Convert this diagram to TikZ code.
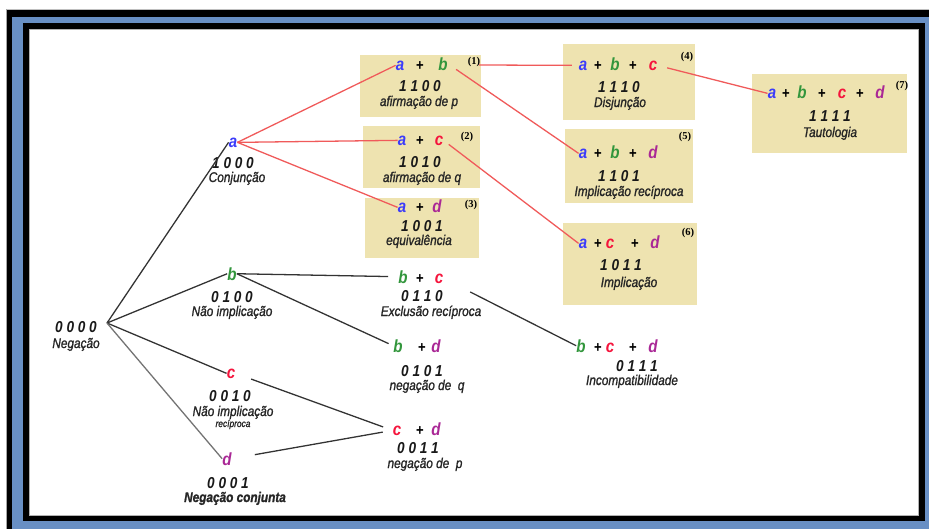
\documentclass[tikz,border=0pt]{standalone}
\usepackage{fontspec}
\setmainfont{Liberation Sans}
\newfontfamily\narrowsans[FakeStretch=0.86]{Liberation Sans}
\newfontfamily\labelsans[FakeStretch=0.84,FakeBold=1.2]{Liberation Sans}
\newfontfamily\serifnum{Liberation Serif}
\definecolor{boxyellow}{RGB}{238,227,176}
\definecolor{cola}{RGB}{60,60,250}
\definecolor{colb}{RGB}{50,150,60}
\definecolor{colc}{RGB}{245,20,60}
\definecolor{cold}{RGB}{170,40,150}
\definecolor{redline}{RGB}{240,90,90}
\definecolor{frameblue}{RGB}{104,143,196}
\begin{document}
\begin{tikzpicture}[x=0.3mm,y=-0.3mm,
    box/.style={fill=boxyellow},
    var/.style={font=\narrowsans\bfseries\itshape\fontsize{15}{15}\selectfont, inner sep=0pt, anchor=base},
    op/.style={font=\narrowsans\bfseries\fontsize{13}{13}\selectfont, inner sep=0pt, anchor=base},
    bits/.style={font=\narrowsans\bfseries\itshape\fontsize{13.5}{13.5}\selectfont, inner sep=0pt, anchor=base, text=black!90},
    lbl/.style={font=\labelsans\itshape\fontsize{12}{12}\selectfont, inner sep=0pt, anchor=base, text=black!85},
    refnum/.style={font=\serifnum\bfseries\fontsize{9}{9}\selectfont, inner sep=0pt},
    tree/.style={draw=black!80, line width=1.1pt},
    link/.style={draw=redline, line width=1.1pt}]
    \useasboundingbox (0,0) rectangle (929,529);

    % Frame
    \fill[white] (0,0) rectangle (929,529);
    \draw[gray!50, line width=0.5pt] (6,9) -- (929,9);
    \draw[gray!70, line width=0.6pt] (6,9) -- (6,529);
    \fill[black] (7,10) rectangle (929,529);
    \fill[frameblue] (12,17) rectangle (929,529);
    \fill[black] (23,23) rectangle (925,521);
    \fill[white] (29,29) rectangle (918,515);
    \draw[gray!60, line width=0.4pt] (29,29) rectangle (918,515);

    % Boxes
    \fill[box] (360,55) rectangle (481,117);
    \fill[box] (363,126) rectangle (480,188);
    \fill[box] (365,198) rectangle (479,258);
    \fill[box] (563,44) rectangle (695,120);
    \fill[box] (565,129) rectangle (693,203);
    \fill[box] (563,223) rectangle (697,305);
    \fill[box] (752,74) rectangle (907,153);

    % Level 0: 0000
    \coordinate (root) at (107,323);
    \node[bits] (n0) at (76,332) {0 0 0 0};
    \node[lbl] (n0-lbl) at (76,348) {Negação};

    % Level 1: a, b, c, d
    \node[var, text=cola] (a) at (233,147) {a};
    \node[bits] (a-bits) at (233,168) {1 0 0 0};
    \node[lbl] (a-lbl) at (237,182) {Conjunção};

    \node[var, text=colb] (b) at (232,280) {b};
    \node[bits] (b-bits) at (232,302) {0 1 0 0};
    \node[lbl] (b-lbl) at (232,316) {Não implicação};

    \node[var, text=colc] (c) at (231,378) {c};
    \node[bits] (c-bits) at (230,401) {0 0 1 0};
    \node[lbl] (c-lbl) at (233,416) {Não implicação};
    \node[lbl, font=\labelsans\itshape\fontsize{8.5}{8.5}\selectfont] (c-lbl2) at (233,427) {recíproca};

    \node[var, text=cold] (d) at (227,465) {d};
    \node[bits] (d-bits) at (228,488) {0 0 0 1};
    \node[lbl, font=\labelsans\bfseries\itshape\fontsize{12}{12}\selectfont] (d-lbl) at (235,502) {Negação conjunta};

    % Level 2: pairs
    \node[var, text=cola] (ab-a) at (400,70) {a};
    \node[op] (ab-op) at (420,70) {+};
    \node[var, text=colb] (ab-b) at (443,70) {b};
    \node[refnum] (ab-num) at (474,62) {(1)};
    \coordinate (ab-out) at (479,65);
    \node[bits] (ab-bits) at (420,91) {1 1 0 0};
    \node[lbl] (ab-lbl) at (419,106) {afirmação de p};

    \node[var, text=cola] (ac-a) at (402,145) {a};
    \node[op] (ac-op) at (420,145) {+};
    \node[var, text=colc] (ac-c) at (439,145) {c};
    \node[refnum] (ac-num) at (467,137) {(2)};
    \node[bits] (ac-bits) at (420,167) {1 0 1 0};
    \node[lbl] (ac-lbl) at (422,182) {afirmação de q};

    \node[var, text=cola] (ad-a) at (402,212) {a};
    \node[op] (ad-op) at (420,212) {+};
    \node[var, text=cold] (ad-d) at (437,212) {d};
    \node[refnum] (ad-num) at (471,205) {(3)};
    \node[bits] (ad-bits) at (422,231) {1 0 0 1};
    \node[lbl] (ad-lbl) at (419,245) {equivalência};

    \node[var, text=colb] (bc-b) at (403,283) {b};
    \node[op] (bc-op) at (420,283) {+};
    \node[var, text=colc] (bc-c) at (439,283) {c};
    \node[bits] (bc-bits) at (422,301) {0 1 1 0};
    \node[lbl] (bc-lbl) at (431,316) {Exclusão recíproca};

    \node[var, text=colb] (bd-b) at (398,352) {b};
    \node[op] (bd-op) at (422,352) {+};
    \node[var, text=cold] (bd-d) at (436,352) {d};
    \node[bits] (bd-bits) at (422,376) {0 1 0 1};
    \node[lbl] (bd-lbl) at (427,390) {negação de\ \ q};

    \node[var, text=colc] (cd-c) at (397,435) {c};
    \node[op] (cd-op) at (420,435) {+};
    \node[var, text=cold] (cd-d) at (436,435) {d};
    \node[bits] (cd-bits) at (418,453) {0 0 1 1};
    \node[lbl] (cd-lbl) at (425,468) {negação de\ \ p};

    % Level 3: triples
    \node[var, text=cola] (abc-a) at (583,70) {a};
    \node[op] (abc-op1) at (598,70) {+};
    \node[var, text=colb] (abc-b) at (615,70) {b};
    \node[op] (abc-op2) at (633,70) {+};
    \node[var, text=colc] (abc-c) at (653,70) {c};
    \node[refnum] (abc-num) at (687,57) {(4)};
    \node[bits] (abc-bits) at (619,92) {1 1 1 0};
    \node[lbl] (abc-lbl) at (620,107) {Disjunção};

    \node[var, text=cola] (abd-a) at (583,158) {a};
    \node[op] (abd-op1) at (598,158) {+};
    \node[var, text=colb] (abd-b) at (615,158) {b};
    \node[op] (abd-op2) at (633,158) {+};
    \node[var, text=cold] (abd-d) at (653,158) {d};
    \node[refnum] (abd-num) at (685,137) {(5)};
    \node[bits] (abd-bits) at (619,181) {1 1 0 1};
    \node[lbl] (abd-lbl) at (629,196) {Implicação recíproca};

    \node[var, text=cola] (acd-a) at (583,248) {a};
    \node[op] (acd-op1) at (598,248) {+};
    \node[var, text=colc] (acd-c) at (610,248) {c};
    \node[op] (acd-op2) at (635,248) {+};
    \node[var, text=cold] (acd-d) at (655,248) {d};
    \node[refnum] (acd-num) at (688,233) {(6)};
    \node[bits] (acd-bits) at (621,270) {1 0 1 1};
    \node[lbl] (acd-lbl) at (629,287) {Implicação};

    \node[var, text=colb] (bcd-b) at (581,352) {b};
    \node[op] (bcd-op1) at (598,352) {+};
    \node[var, text=colc] (bcd-c) at (610,352) {c};
    \node[op] (bcd-op2) at (633,352) {+};
    \node[var, text=cold] (bcd-d) at (653,352) {d};
    \node[bits] (bcd-bits) at (637,371) {0 1 1 1};
    \node[lbl] (bcd-lbl) at (632,385) {Incompatibilidade};

    % Level 4: 1111
    \node[var, text=cola] (abcd-a) at (772,98) {a};
    \node[op] (abcd-op1) at (786,98) {+};
    \node[var, text=colb] (abcd-b) at (802,98) {b};
    \node[op] (abcd-op2) at (822,98) {+};
    \node[var, text=colc] (abcd-c) at (842,98) {c};
    \node[op] (abcd-op3) at (860,98) {+};
    \node[var, text=cold] (abcd-d) at (880,98) {d};
    \node[refnum] (abcd-num) at (902,86) {(7)};
    \node[bits] (abcd-bits) at (830,121) {1 1 1 1};
    \node[lbl] (abcd-lbl) at (830,137) {Tautologia};

    % Black connectors
    \draw[tree] (root) -- (a.west);
    \draw[tree] (root) -- (b.west);
    \draw[tree] (root) -- (c.west);
    \draw[tree, draw=black!55] (root) -- (d.west);
    \draw[tree, shorten >=3mm] (b.east) -- (bc-b.west);
    \draw[tree, shorten >=1.5mm] (b.east) -- (bd-b.west);
    \draw[tree, shorten <=5mm, shorten >=3mm] (c.east) -- (cd-c.west);
    \draw[tree, shorten <=7mm, shorten >=3mm] (d.east) -- (cd-c.west);
    \draw[tree, shorten <=9mm] (bc-c.east) -- (bcd-b.west);

    % Red connectors
    \draw[link] (a.east) -- (ab-a.west);
    \draw[link] (a.east) -- (ac-a.west);
    \draw[link] (a.east) -- (ad-a.west);
    \draw[link, shorten <=3mm] (ab-b.east) -- (abd-a.west);
    \draw[link, shorten >=2mm] (ab-out) -- (abc-a.west);
    \draw[link, shorten <=2mm] (ac-c.east) -- (acd-a.west);
    \draw[link, shorten <=3mm] (abc-c.east) -- (abcd-a.west);
\end{tikzpicture}
\end{document}
